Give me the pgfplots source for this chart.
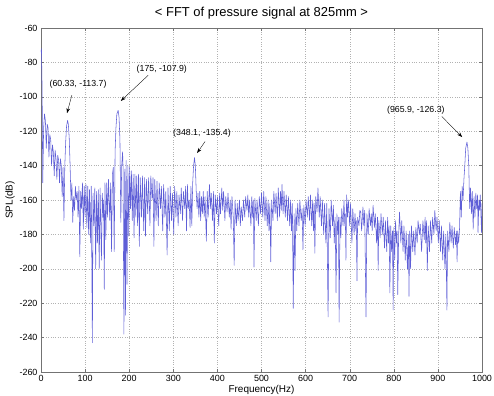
\documentclass[border=0pt]{standalone}
\usepackage{pgfplots}
\pgfplotsset{compat=1.18}
\usetikzlibrary{arrows.meta}
\usepackage{fontspec}
\setmainfont{Liberation Sans}
\definecolor{specblue}{RGB}{95,95,215}
\begin{document}
\begin{tikzpicture}
\begin{axis}[
  scale only axis, width=441bp, height=344bp,
  xmin=0, xmax=1000, ymin=-260, ymax=-60,
  xtick={0,100,...,1000}, ytick={-260,-240,...,-60},
  grid=major, major grid style={dotted, gray!60, line width=0.4pt},
  tick align=inside, major tick length=3bp,
  axis line style={line width=0.6pt, black!55},
  tick style={black!55, line width=0.4pt},
  /pgf/number format/assume math mode=true,
  /pgf/number format/1000 sep={},
  tick label style={font=\fontsize{9}{10}\selectfont},
  title={< FFT of pressure signal at 825mm >},
  title style={font=\fontsize{13}{14}\selectfont, yshift=-1bp},
  xlabel={Frequency(Hz)}, ylabel={SPL(dB)},
  label style={font=\fontsize{10}{11}\selectfont},
  xlabel style={yshift=3bp},
  ylabel style={yshift=-2bp},
]
\addplot[color=specblue, line width=0.55bp, line join=round] coordinates {
(0,-74) (1,-72) (2.5,-95) (4,-150) (6,-118) (8,-110) (10,-114) (12,-130) (14,-116) (16,-118) (18,-135) (20,-122) (22,-125) (24,-140) (26,-128) (28,-132) (30,-146) (32,-131) (34,-136) (36,-148) (38,-134) (40,-137) (42,-150) (44,-136) (46,-140) (48,-158) (50,-141) (52,-172) (54,-140)
(56,-126) (58,-117) (60.33,-113.7) (62,-116) (64,-124) (66,-140) (68,-160) (70,-150) (72,-173) (74,-158) (76,-166) (78,-152) (80,-160) (82,-155) (84,-170) (86,-152) (88,-193) (90,-155) (92,-165) (94,-150) (96,-177) (98,-152) (100,-170) (102,-151) (104,-176) (106,-152) (108,-180) (110,-154) (112,-185) (114,-152) (116.5,-243) (118,-156) (120,-175) (122,-153) (124,-200) (126,-155) (128,-185) (130,-154) (132,-200) (134,-153) (137,-195) (139,-156) (141,-170) (142,-160) (143.5,-212) (145,-150) (147,-183) (149,-150) (151,-170) (153,-148) (156,-172) (158,-150) (160,-190) (162,-145) (164,-141) (166,-190) (168,-132) (170,-118) (172,-110) (175,-107.9) (177,-112) (179,-125) (181,-173) (183,-140) (185,-132) (186,-140) (188,-238) (190,-142) (191.5,-227) (193,-137) (195,-209) (197,-140) (199,-181) (201,-141) (203,-165) (205,-143) (207,-172) (209,-145) (211,-182) (213,-145) (215,-170) (217,-146) (219,-175) (221,-145) (223,-187) (225,-147) (228,-170) (230,-146) (233,-178) (235,-147) (237,-181) (239,-148) (242,-168) (244,-147) (247,-175) (249,-146) (252,-160) (254,-147) (256,-187) (258,-148) (261,-172) (263,-149) (266,-175) (268,-150) (271,-165) (273,-152) (276,-178) (278,-151) (281,-170) (283,-155) (286,-192) (288,-153) (291,-178) (293,-152) (296,-172) (298,-156) (301,-180) (303,-152) (306,-170) (308,-155) (311,-175) (313,-157) (316,-168) (318,-153) (321,-172) (323,-155) (326,-165) (328,-152) (330,-178) (332,-151) (334,-165) (336,-160) (338,-176) (340,-152) (342,-175) (344,-150) (346,-140) (348.1,-135.4) (350,-140) (352,-155)
(354,-165) (356,-156) (358,-170) (360,-155) (362,-172) (364,-158) (366,-168) (368,-155) (370,-170) (372,-158) (375,-184) (377,-155) (379,-170) (382,-151) (384,-165) (386,-156) (389,-172) (391,-155) (393,-185) (395,-157) (398,-168) (400,-158) (403,-175) (405,-156) (407,-168) (410,-153) (412,-166) (414,-155) (417,-172) (419,-158) (422,-167) (424,-156) (427,-170) (429,-160) (431,-177) (433,-158) (436,-170) (438,-198) (440,-160) (443,-175) (445,-162) (447,-172) (450,-160) (452,-175) (454,-164) (457,-172) (459,-160) (462,-170) (464,-158) (467,-166) (469,-157) (471,-170) (473,-160) (476,-175) (478,-158) (480,-170) (481.5,-160) (483,-199) (485,-159) (488,-172) (490,-160) (493,-175) (495,-158) (498,-168) (500,-156) (503,-170) (505,-155) (508,-172) (510,-158) (513,-175) (515,-160) (517,-178) (519,-162) (521,-196) (523,-160) (526,-172) (528,-155) (531,-168) (533,-156) (536,-172) (538,-153) (541,-170) (543,-155) (545,-166) (546.5,-151) (549,-168) (551,-155) (554,-170) (556,-157) (559,-172) (561,-158) (564,-175) (566,-160) (568,-178) (570,-162) (572,-223) (574,-168) (576,-201) (578,-165) (580,-178) (582,-162) (585,-175) (587,-160) (590,-172) (592,-165) (594,-189) (596,-163) (599,-175) (601,-160) (604,-170) (606,-158) (609,-172) (611,-157) (614,-175) (616,-160) (618,-178) (619.5,-162) (621,-191) (623,-158) (626,-167) (628,-153) (631,-170) (633,-158) (636,-175) (638,-160) (641,-180) (643,-162) (646,-185) (648,-162) (651,-228) (653,-165) (656,-182) (658,-160) (661,-175) (663,-163) (665,-185) (667,-170) (669,-214) (671,-168) (673,-180) (674.5,-170) (676,-231) (678,-170) (680,-182) (682,-165) (685,-175) (687,-160) (689,-175) (690,-168) (691.5,-195) (693,-157) (695,-170) (697,-160) (700,-175)
(702,-162) (705,-185) (707,-165) (710,-180) (712,-168) (714,-178) (715,-172) (716.5,-207) (718,-170) (721,-175) (723,-166) (725,-167) (727,-178) (730,-164) (732,-175) (734,-166) (737,-228) (739,-168) (742,-180) (744,-165) (747,-175) (749,-168) (751,-178) (753,-163) (756,-176) (758,-168) (761,-185) (763,-170) (764.5,-201) (766,-172) (769,-182) (771,-168) (774,-180) (776,-170) (779,-188) (781,-172) (784,-190) (786,-170) (788,-185) (789.5,-175) (791,-214) (793,-175) (795,-190) (797,-178) (798.5,-224) (800,-176) (802,-195) (804,-172) (806,-185) (807.5,-178) (809,-215) (811,-180) (813,-167) (816,-185) (818,-172) (821,-190) (823,-175) (826,-195) (828,-178) (831,-200) (833,-180) (834.5,-216) (836,-178) (838,-200) (840,-175) (843,-190) (845,-178) (848,-192) (850,-176) (853,-185) (855,-172) (858,-180) (860,-174) (863,-190) (866,-172) (869,-183) (871,-170) (872.5,-185) (874,-172) (876,-201) (878,-175) (881,-190) (883,-172) (886,-185) (888,-170) (891,-180) (893,-166) (896,-178) (898,-170) (901,-185) (903,-172) (906,-190) (908,-175) (911,-195) (913,-178) (916,-200) (918,-180) (920.5,-224) (922,-178) (925,-190) (927,-173) (930,-185) (932,-175) (935,-188) (937,-176) (940,-186) (942,-178) (943.5,-196) (945,-178) (947,-185) (949,-177) (951,-155) (953,-170) (955,-152) (957,-160) (959,-148) (961,-140) (963,-130) (965.9,-126.3) (968,-130) (970,-140) (972,-165) (974,-153) (976,-168) (978,-155) (980,-177) (982,-158) (984,-170) (986,-156) (988,-165) (990,-157) (991,-179) (993,-160) (994.5,-166) (996,-157) (998,-172) (999,-179) (1000,-162)
};
\begin{scope}[every node/.style={font=\fontsize{8.8}{9}\selectfont, inner sep=1bp}]
\node at (axis cs:84,-92.6) {(60.33, -113.7)};
\node at (axis cs:274,-83.8) {(175, -107.9)};
\node at (axis cs:365,-121) {(348.1, -135.4)};
\node at (axis cs:850,-107.7) {(965.9, -126.3)};
\end{scope}
\begin{scope}[-{Stealth[length=5bp,width=3.5bp]}, line width=0.35pt, black]
\draw (axis cs:70,-99) -- (axis cs:59,-109.5);
\draw (axis cs:243,-87.5) -- (axis cs:181,-102.4);
\draw (axis cs:372,-126) -- (axis cs:354,-132.7);
\draw (axis cs:909,-111.5) -- (axis cs:955,-123.4);
\end{scope}
\end{axis}
\pgfresetboundingbox
\path[use as bounding box] (-41bp,-24bp) rectangle (453bp,372bp);
\end{tikzpicture}
\end{document}
